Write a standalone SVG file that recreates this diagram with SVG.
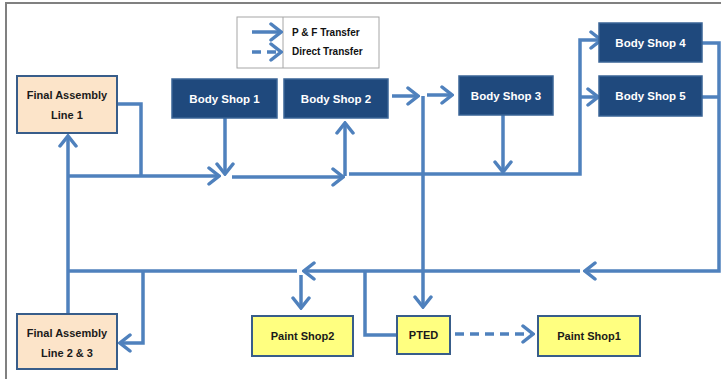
<svg xmlns="http://www.w3.org/2000/svg" width="721" height="379" viewBox="0 0 721 379">
<style>
.c{fill:none;stroke:#4F81BD;stroke-width:3.5;stroke-linejoin:miter}
.a{marker-end:url(#ar)}
.d{stroke-dasharray:9,6}
.bs rect{fill:#1F497D;stroke:#3A6496;stroke-width:1.5}
.bs text{fill:#fff;font-family:"Liberation Sans",Arial,sans-serif;font-weight:bold;font-size:11.5px;text-anchor:middle;dominant-baseline:central}
.fa rect{fill:#FCE4C9;stroke:#385D8A;stroke-width:2}
.ps rect{fill:#FFFF80;stroke:#385D8A;stroke-width:2}
.fa text,.ps text{fill:#1a1a1a;font-family:"Liberation Sans",Arial,sans-serif;font-weight:bold;font-size:11px;text-anchor:middle;dominant-baseline:central}
.lg text{fill:#111;font-family:"Liberation Sans",Arial,sans-serif;font-weight:bold;font-size:10px;dominant-baseline:central}
</style>
<defs>
<marker id="ar" viewBox="0 0 14 20" refX="12" refY="10" markerWidth="14" markerHeight="20" markerUnits="userSpaceOnUse" orient="auto">
<path d="M2,2 L12,10 L2,18" fill="none" stroke="#4F81BD" stroke-width="3.5" stroke-linecap="round" stroke-linejoin="miter"/>
</marker>
</defs>
<rect x="0" y="0" width="721" height="379" fill="#fff"/>
<path d="M6,379 V3 H721" fill="none" stroke="#808080" stroke-width="2"/>

<g id="legend" class="lg">
<rect x="237" y="17" width="142" height="51" fill="#fff" stroke="#A6A6A6" stroke-width="1"/>
<line x1="283" y1="17" x2="283" y2="68" stroke="#A6A6A6" stroke-width="1"/>
<path class="c a" d="M252,32 H281"/>
<path class="c a d" d="M252,52 H281"/>
<text x="292" y="32">P &amp; F Transfer</text>
<text x="292" y="51">Direct Transfer</text>
</g>

<g id="connectors">
<path class="c" d="M117,104 H141 V176"/>
<path class="c a" d="M68,176 H219"/>
<path class="c a" d="M225,118 V174"/>
<path class="c a" d="M232,177 H343"/>
<path class="c a" d="M345,176 V123"/>
<path class="c a" d="M349,174 H580 V40 H601"/>
<path class="c a" d="M580,97 H598"/>
<path class="c a" d="M503,115 V172"/>
<path class="c a" d="M392,96 H418"/>
<path class="c a" d="M427,95 H452"/>
<path class="c a" d="M423,96 V307"/>
<path class="c a" d="M702,43 H719 V271 H585"/>
<path class="c" d="M702,97 H719"/>
<path class="c a" d="M580,271 H304"/>
<path class="c" d="M397,335 H365 V271"/>
<path class="c" d="M297,271 H68"/>
<path class="c a" d="M68,314 V136"/>
<path class="c a" d="M143,271 V343 H120"/>
<path class="c a" d="M301,275 V308"/>
<path class="c a d" d="M455,334 H533"/>
</g>

<g id="fa1" class="fa">
<rect x="17" y="76" width="100" height="57"/>
<text x="67" y="95">Final Assembly</text>
<text x="67" y="115">Line 1</text>
</g>
<g id="fa23" class="fa">
<rect x="17" y="314" width="100" height="55"/>
<text x="67" y="333">Final Assembly</text>
<text x="67" y="353">Line 2 &amp; 3</text>
</g>
<g id="bs1" class="bs">
<rect x="172" y="79" width="105" height="39"/>
<text x="224.5" y="98.5">Body Shop 1</text>
</g>
<g id="bs2" class="bs">
<rect x="284" y="79" width="104" height="39"/>
<text x="336" y="98.5">Body Shop 2</text>
</g>
<g id="bs3" class="bs">
<rect x="459" y="76" width="94" height="39"/>
<text x="506" y="95.5">Body Shop 3</text>
</g>
<g id="bs4" class="bs">
<rect x="599" y="23" width="103" height="39"/>
<text x="650.5" y="42.5">Body Shop 4</text>
</g>
<g id="bs5" class="bs">
<rect x="599" y="76" width="103" height="40"/>
<text x="650.5" y="96">Body Shop 5</text>
</g>
<g id="ps2" class="ps">
<rect x="252" y="316" width="101" height="40"/>
<text x="302.5" y="336">Paint Shop2</text>
</g>
<g id="pted" class="ps">
<rect x="397" y="316" width="53" height="38"/>
<text x="423.5" y="335">PTED</text>
</g>
<g id="ps1" class="ps">
<rect x="538" y="316" width="102" height="40"/>
<text x="589" y="336">Paint Shop1</text>
</g>
</svg>
